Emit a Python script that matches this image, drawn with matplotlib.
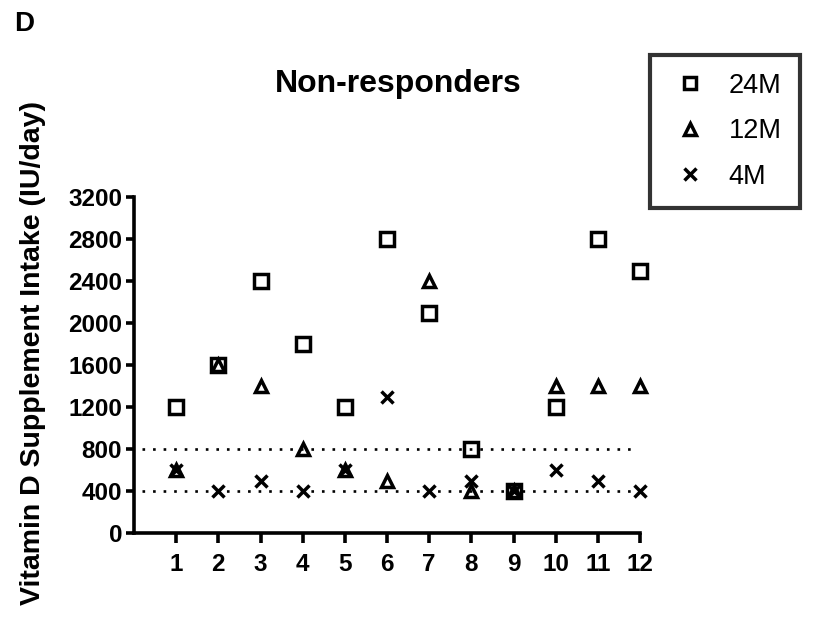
import matplotlib
matplotlib.use("Agg")
import matplotlib.pyplot as plt
from matplotlib.lines import Line2D

# Participants and supplement intake (IU/day) at each visit
participants = [1, 2, 3, 4, 5, 6, 7, 8, 9, 10, 11, 12]
intake_24m = [1200, 1600, 2400, 1800, 1200, 2800, 2100, 800, 400, 1200, 2800, 2500]
intake_12m = [600, 1600, 1400, 800, 600, 500, 2400, 400, 400, 1400, 1400, 1400]
intake_4m = [600, 400, 500, 400, 600, 1300, 400, 500, 400, 600, 500, 400]
reference_levels = [800, 400]
y_ticks = [0, 400, 800, 1200, 1600, 2000, 2400, 2800, 3200]

plt.rcParams["font.family"] = ["Liberation Sans", "DejaVu Sans"]

W, H = 813, 621
fig = plt.figure(figsize=(W / 100, H / 100), dpi=100)
ax = fig.add_axes([134 / W, 1 - 533 / H, (640 - 134) / W, (533 - 197) / H])

lw = 2.6
mew = 2.5
ax.plot(participants, intake_24m, linestyle="none", marker="s", markersize=9.5,
        markerfacecolor="none", markeredgecolor="black", markeredgewidth=mew,
        label="24M", zorder=3, clip_on=False)
ax.plot(participants, intake_12m, linestyle="none", marker="^", markersize=8.5,
        markerfacecolor="none", markeredgecolor="black", markeredgewidth=mew,
        label="12M", zorder=4, clip_on=False)
ax.plot(participants, intake_4m, linestyle="none", marker="x", markersize=9,
        color="black", markeredgewidth=mew, label="4M", zorder=5, clip_on=False)

for level in reference_levels:
    ax.plot([0.2, 11.8], [level, level], color="black", linewidth=1.9,
            linestyle=(0, (1, 3)), zorder=2)

ax.set_xlim(0, 12)
ax.set_ylim(0, 3200)
ax.set_xticks(participants)
ax.set_yticks(y_ticks)
ax.set_xticklabels([str(p) for p in participants], fontsize=17.5, fontweight="bold")
ax.set_yticklabels([str(t) for t in y_ticks], fontsize=17.5, fontweight="bold")

for side in ("top", "right"):
    ax.spines[side].set_visible(False)
for side in ("left", "bottom"):
    ax.spines[side].set_linewidth(lw)
    ax.spines[side].set_capstyle("projecting")

ax.tick_params(axis="y", direction="out", length=5.5, width=lw, pad=3)
ax.tick_params(axis="x", direction="out", length=7, width=lw, pad=7.5)

fig.text(398 / W, 1 - 84 / H, "Non-responders", ha="center", va="center",
         fontsize=23, fontweight="bold")
fig.text(33 / W, 1 - 353 / H, "Vitamin D Supplement Intake (IU/day)",
         ha="center", va="center", rotation=90, fontsize=20.5, fontweight="bold")
fig.text(24 / W, 1 - 24 / H, "D", ha="center", va="center",
         fontsize=20, fontweight="bold")

handles = [
    Line2D([], [], linestyle="none", marker="s", markersize=9, markerfacecolor="none",
           markeredgecolor="black", markeredgewidth=mew),
    Line2D([], [], linestyle="none", marker="^", markersize=8.5, markerfacecolor="none",
           markeredgecolor="black", markeredgewidth=mew),
    Line2D([], [], linestyle="none", marker="x", markersize=8.5, color="black",
           markeredgewidth=mew),
]
leg = fig.legend(handles, ["24M", "12M", "4M"], loc="upper left",
                 bbox_to_anchor=(650 / W, 1 - 55 / H), bbox_transform=fig.transFigure,
                 borderaxespad=0, fontsize=19.5, frameon=True, fancybox=False,
                 edgecolor="black", handlelength=1.6, handletextpad=0.65,
                 borderpad=0.66, labelspacing=0.72)
leg.get_frame().set_linewidth(3)

fig.savefig("out.png", dpi=100, facecolor="white")
